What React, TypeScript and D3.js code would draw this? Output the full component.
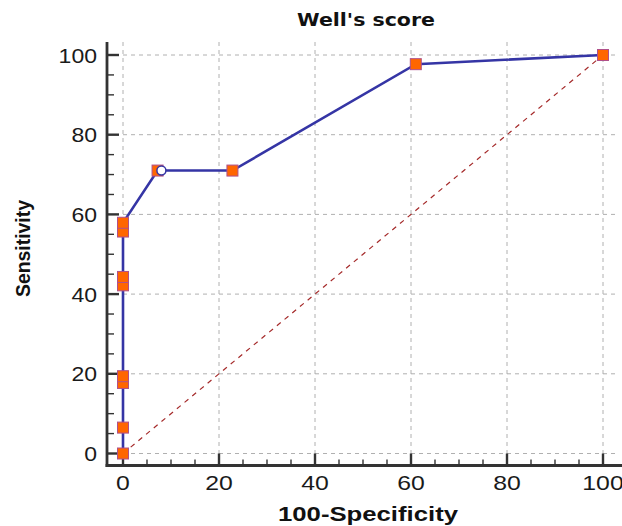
import React from "react";
import * as d3 from "d3";

const fpr = [0, 0, 0, 0, 0, 0, 0, 0, 7.2, 22.8, 61, 100];
const sens = [0, 6.5, 17.7, 19.4, 42.2, 44.3, 55.7, 57.9, 71, 71, 97.7, 100];
const optimal = { x: 8, y: 71 };
const majorTicks = [0, 20, 40, 60, 80, 100];
const title = "Well's score";
const xLabel = "100-Specificity";
const yLabel = "Sensitivity";

const W = 622;
const H = 526;

export default function App() {
  const x = d3.scaleLinear().domain([0, 100]).range([123, 603]);
  const y = d3.scaleLinear().domain([0, 100]).range([453.5, 55]);
  const spineX = 107;
  const spineY = 465.5;
  const topY = 42;
  const rightX = 622;
  const minor = d3.range(0, 101, 5).filter((v) => v % 20 !== 0);
  const line = d3
    .line<number>()
    .x((_, i) => x(fpr[i]))
    .y((d) => y(d));
  const font = "'Liberation Sans', Arial, sans-serif";
  const lineColor = "#3535a5";
  const axisColor = "#333";
  return (
    <svg
      width={W}
      height={H}
      style={{ position: "absolute", left: 0, top: 0, background: "#fff" }}
    >
      {majorTicks.map((t) => (
        <line
          key={"gh" + t}
          x1={spineX}
          x2={rightX - 4}
          y1={y(t)}
          y2={y(t)}
          stroke="#b0b0b0"
          strokeWidth={1}
          strokeDasharray="4,4"
        />
      ))}
      {majorTicks.map((t) => (
        <line
          key={"gv" + t}
          x1={x(t)}
          x2={x(t)}
          y1={topY}
          y2={spineY}
          stroke="#b0b0b0"
          strokeWidth={1}
          strokeDasharray="4,4"
        />
      ))}
      <line
        x1={x(0)}
        y1={y(0)}
        x2={x(100)}
        y2={y(100)}
        stroke="#a52a2a"
        strokeWidth={1.2}
        strokeDasharray="5,5"
      />
      <line x1={spineX} x2={spineX} y1={topY} y2={spineY + 1.5} stroke={axisColor} strokeWidth={2.8} />
      <line x1={spineX - 1.4} x2={rightX} y1={spineY} y2={spineY} stroke={axisColor} strokeWidth={2.8} />
      {majorTicks.map((t) => (
        <line key={"yt" + t} x1={spineX} x2={spineX + 12} y1={y(t)} y2={y(t)} stroke={axisColor} strokeWidth={2.4} />
      ))}
      {minor.map((t) => (
        <line key={"ym" + t} x1={spineX} x2={spineX + 7} y1={y(t)} y2={y(t)} stroke={axisColor} strokeWidth={1.4} />
      ))}
      {majorTicks.map((t) => (
        <line key={"xt" + t} x1={x(t)} x2={x(t)} y1={spineY} y2={spineY - 12} stroke={axisColor} strokeWidth={2.4} />
      ))}
      {minor.map((t) => (
        <line key={"xm" + t} x1={x(t)} x2={x(t)} y1={spineY} y2={spineY - 6} stroke={axisColor} strokeWidth={1.4} />
      ))}
      {majorTicks.map((t) => (
        <text
          key={"yl" + t}
          x={97}
          y={y(t) + 7.5}
          textAnchor="end"
          fontFamily={font}
          fontSize={21}
          fill="#1a1a1a"
          textLength={String(t).length * 12.8}
          lengthAdjust="spacingAndGlyphs"
        >
          {t}
        </text>
      ))}
      {majorTicks.map((t) => (
        <text
          key={"xl" + t}
          x={x(t)}
          y={490}
          textAnchor="middle"
          fontFamily={font}
          fontSize={21}
          fill="#1a1a1a"
          textLength={String(t).length * 13.8}
          lengthAdjust="spacingAndGlyphs"
        >
          {t}
        </text>
      ))}
      <path d={line(sens) || ""} fill="none" stroke={lineColor} strokeWidth={2.6} />
      {sens.map((v, i) => (
        <rect
          key={"pt" + i}
          x={x(fpr[i]) - 5.5}
          y={y(v) - 5.5}
          width={11}
          height={11}
          fill="#ff6600"
          stroke="#b0508a"
          strokeWidth={1}
        />
      ))}
      <circle cx={x(optimal.x)} cy={y(optimal.y)} r={4.5} fill="#fff" stroke={lineColor} strokeWidth={1.5} />
      <text
        x={366}
        y={26}
        textAnchor="middle"
        fontFamily="'DejaVu Sans', Verdana, sans-serif"
        fontWeight="bold"
        fontSize={18}
        fill="#111"
        textLength={138}
        lengthAdjust="spacingAndGlyphs"
      >
        {title}
      </text>
      <text
        x={368}
        y={521}
        textAnchor="middle"
        fontFamily={font}
        fontWeight="bold"
        fontSize={21}
        fill="#111"
        textLength={180}
        lengthAdjust="spacingAndGlyphs"
      >
        {xLabel}
      </text>
      <text
        transform={`translate(30,248.5) rotate(-90)`}
        textAnchor="middle"
        fontFamily={font}
        fontWeight="bold"
        fontSize={21}
        fill="#111"
        textLength={97}
        lengthAdjust="spacingAndGlyphs"
      >
        {yLabel}
      </text>
    </svg>
  );
}
